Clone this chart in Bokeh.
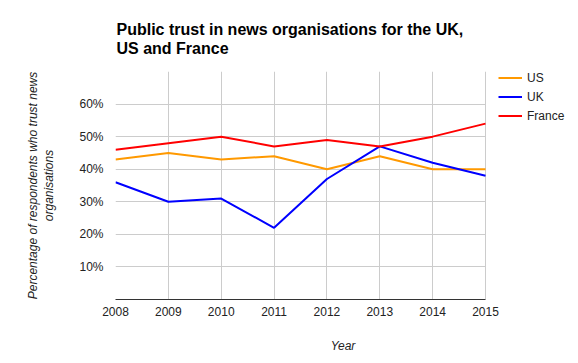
from bokeh.plotting import figure
from bokeh.models import FixedTicker, Legend, LegendItem, Range1d
from bokeh.embed import file_html
from bokeh.resources import INLINE

years = [2008, 2009, 2010, 2011, 2012, 2013, 2014, 2015]
us = [43, 45, 43, 44, 40, 44, 40, 40]
uk = [36, 30, 31, 22, 37, 47, 42, 38]
france = [46, 48, 50, 47, 49, 47, 50, 54]
y_ticks = [0, 10, 20, 30, 40, 50, 60, 70]
y_tick_labels = ["", "10%", "20%", "30%", "40%", "50%", "60%", ""]
title_text = "Public trust in news organisations for the UK,\nUS and France"
y_label = "Percentage of respondents who trust news\norganisations"
x_label = "Year"

FONT = "Liberation Sans"
PX_PER_YEAR = 370 / 7.0
X_END = 2015 + 85 / PX_PER_YEAR  # frame extends under the legend area

p = figure(width=570, height=355, output_backend="svg", toolbar_location=None,
           x_range=Range1d(2008, X_END), y_range=Range1d(0, 70),
           min_border_left=115, min_border_right=0, min_border_top=71, min_border_bottom=56)
p.outline_line_color = None
p.background_fill_color = "white"
p.border_fill_color = "white"

# title
p.title.text = title_text
p.title.align = "left"
p.title.offset = 1
p.title.standoff = 29
p.title.text_font = FONT
p.title.text_font_size = "16px"
p.title.text_font_style = "bold"
p.title.text_color = "#000000"
p.title.text_line_height = 1.09

# axes
p.xaxis.ticker = FixedTicker(ticks=years)
p.xaxis.bounds = (2008, 2015)
p.xaxis.major_tick_line_color = None
p.xaxis.minor_tick_line_color = None
p.xaxis.major_tick_out = 0
p.xaxis.minor_tick_out = 0
p.xaxis.axis_line_color = "#333333"
p.xaxis.axis_line_width = 1
p.xaxis.major_label_text_font = FONT
p.xaxis.major_label_text_font_size = "12px"
p.xaxis.major_label_text_color = "#222222"
p.xaxis.major_label_standoff = 7
p.xaxis.axis_label = x_label
p.xaxis.axis_label_text_font = FONT
p.xaxis.axis_label_text_font_size = "12px"
p.xaxis.axis_label_text_font_style = "italic"
p.xaxis.axis_label_text_color = "#222222"
p.xaxis.axis_label_standoff = 20

p.yaxis.ticker = FixedTicker(ticks=y_ticks)
p.yaxis.major_label_overrides = {t: l for t, l in zip(y_ticks, y_tick_labels)}
p.yaxis.major_tick_line_color = None
p.yaxis.minor_tick_line_color = None
p.yaxis.major_tick_out = 0
p.yaxis.minor_tick_out = 0
p.yaxis.axis_line_color = None
p.yaxis.major_label_text_font = FONT
p.yaxis.major_label_text_font_size = "12px"
p.yaxis.major_label_text_color = "#222222"
p.yaxis.major_label_standoff = 12
p.yaxis.axis_label = y_label
p.yaxis.axis_label_text_font = FONT
p.yaxis.axis_label_text_font_size = "12px"
p.yaxis.axis_label_text_font_style = "italic"
p.yaxis.axis_label_text_color = "#222222"
p.yaxis.axis_label_text_line_height = 1.16
p.yaxis.axis_label_standoff = 20

p.xgrid.ticker = FixedTicker(ticks=years)
p.ygrid.ticker = FixedTicker(ticks=y_ticks)
p.xgrid.grid_line_color = "#cccccc"
p.ygrid.grid_line_color = "#cccccc"
p.ygrid.cross_bounds = (2008, 2015)

r_us = p.line(years, us, line_color="#ff9900", line_width=2)
r_uk = p.line(years, uk, line_color="#0000ff", line_width=2)
r_fr = p.line(years, france, line_color="#ff0000", line_width=2)

legend = Legend(items=[LegendItem(label="US", renderers=[r_us]),
                       LegendItem(label="UK", renderers=[r_uk]),
                       LegendItem(label="France", renderers=[r_fr])],
                location=(383, 174), padding=0, margin=0, spacing=0,
                glyph_width=24, glyph_height=19, label_height=19, label_standoff=5,
                border_line_color=None, background_fill_alpha=0,
                label_text_font=FONT, label_text_font_size="12px", label_text_color="#222222")
p.add_layout(legend)

open("out.html", "w").write(file_html(p, INLINE))
